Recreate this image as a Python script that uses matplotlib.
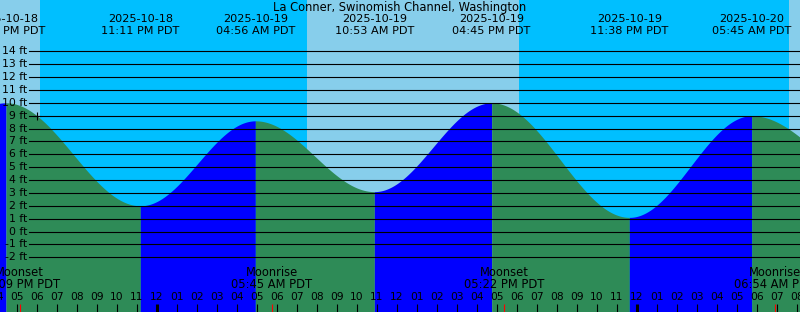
import numpy as np
import pandas as pd
import matplotlib
matplotlib.use("Agg")
import matplotlib.pyplot as plt

title = "La Conner, Swinomish Channel, Washington"

# tide extremes (first/last ones sit just outside the visible window)
tide_times = ["2025-10-18 10:05", "2025-10-18 16:28", "2025-10-18 23:11", "2025-10-19 04:56",
              "2025-10-19 10:53", "2025-10-19 16:45", "2025-10-19 23:38", "2025-10-20 05:45",
              "2025-10-20 12:15"]
tide_heights = [4.0, 10.0, 2.0, 8.6, 3.1, 10.0, 1.1, 9.0, 3.5]
labelled = [1, 2, 3, 4, 5, 6, 7]

sun_times = ["2025-10-18 18:10", "2025-10-19 07:32", "2025-10-19 18:08", "2025-10-20 07:36"]
moon_times = ["2025-10-18 17:09", "2025-10-19 05:45", "2025-10-19 17:22", "2025-10-20 06:54"]
moon_names = ["Moonset", "Moonrise", "Moonset", "Moonrise"]
now_time = "2025-10-18 18:01"

view_start = "2025-10-18 16:10"
view_end = "2025-10-20 08:10"
ft_levels = list(range(-2, 15))

t0 = pd.Timestamp("2025-10-19 00:00")


def hrs(s):
    return (pd.Timestamp(s) - t0) / pd.Timedelta(hours=1)


tx = np.array([hrs(s) for s in tide_times])
th = np.array(tide_heights)


def tide_at(t):
    i = np.searchsorted(tx, t) - 1
    i = np.clip(i, 0, len(tx) - 2)
    f = (t - tx[i]) / (tx[i + 1] - tx[i])
    return th[i] + (th[i + 1] - th[i]) * (1 - np.cos(np.pi * f)) / 2


W, H = 800, 312
fig = plt.figure(figsize=(8, 3.12), dpi=100)
ax = fig.add_axes([0, 0, 1, 1])
x0, x1 = hrs(view_start), hrs(view_end)
ax.set_xlim(x0, x1)
ppf = 12.875
ax.set_ylim(-2 - 54.7 / ppf, 14 + 51.3 / ppf)
ax.axis("off")

light = "#87CEEB"
deep = "#00BFFF"
green = "#2E8B57"
blue = "#0000FF"

# day / night background
edges = [x0] + [hrs(s) for s in sun_times] + [x1]
for k in range(len(edges) - 1):
    ax.axvspan(edges[k], edges[k + 1], color=light if k % 2 == 0 else deep, lw=0, zorder=0)

# tide fill, blue while rising, green while falling
ymin = ax.get_ylim()[0]
for i in range(len(tx) - 1):
    t = np.linspace(tx[i], tx[i + 1], 300)
    h = tide_at(t)
    c = blue if th[i + 1] > th[i] else green
    ax.fill_between(t, ymin, h, color=c, lw=0, zorder=1)

# height grid
for lv in ft_levels:
    ax.axhline(lv, xmin=29 / W, xmax=1, color="black", lw=0.8, zorder=2)
    ax.text(27 / W, lv, f"{lv} ft", transform=ax.get_yaxis_transform(),
            ha="right", va="center", fontsize=7.8, zorder=3)

# current time marker
nt = hrs(now_time)
ax.plot([nt], [tide_at(nt)], marker="+", color="black", ms=6, mew=0.8, zorder=4)

xt = ax.get_xaxis_transform()
ax.text(0.5, 1 - 7.3 / H, title, transform=ax.transAxes, ha="center", va="center", fontsize=8.3)
for i in labelled:
    ts = pd.Timestamp(tide_times[i])
    ax.text(tx[i], 1 - 19 / H, ts.strftime("%Y-%m-%d"), transform=xt,
            ha="center", va="center", fontsize=8.1, zorder=3)
    ax.text(tx[i], 1 - 31 / H, ts.strftime("%I:%M %p PDT"), transform=xt,
            ha="center", va="center", fontsize=8.1, zorder=3)

# hour ticks
hours = pd.date_range("2025-10-18 16:00", "2025-10-20 08:00", freq="h")
for hr in hours:
    x = hrs(hr)
    thick = hr.hour == 0
    ax.plot([x, x], [0, 8 / H], transform=xt, color="black",
            lw=2.2 if thick else 0.8, solid_capstyle="butt", zorder=3)
    ax.text(x, 1 - 296.7 / H, hr.strftime("%I"), transform=xt,
            ha="center", va="center", fontsize=7.7, zorder=3)

# moon events
for s, name in zip(moon_times, moon_names):
    x = hrs(s)
    ax.plot([x, x], [0, 8 / H], transform=xt, color="red", lw=0.8,
            solid_capstyle="butt", zorder=3)
    ax.text(x, 1 - 273 / H, name, transform=xt, ha="center", va="center", fontsize=8.3, zorder=3)
    ax.text(x, 1 - 285 / H, pd.Timestamp(s).strftime("%I:%M %p PDT"), transform=xt,
            ha="center", va="center", fontsize=8.3, zorder=3)

fig.savefig("out.png", dpi=100)
